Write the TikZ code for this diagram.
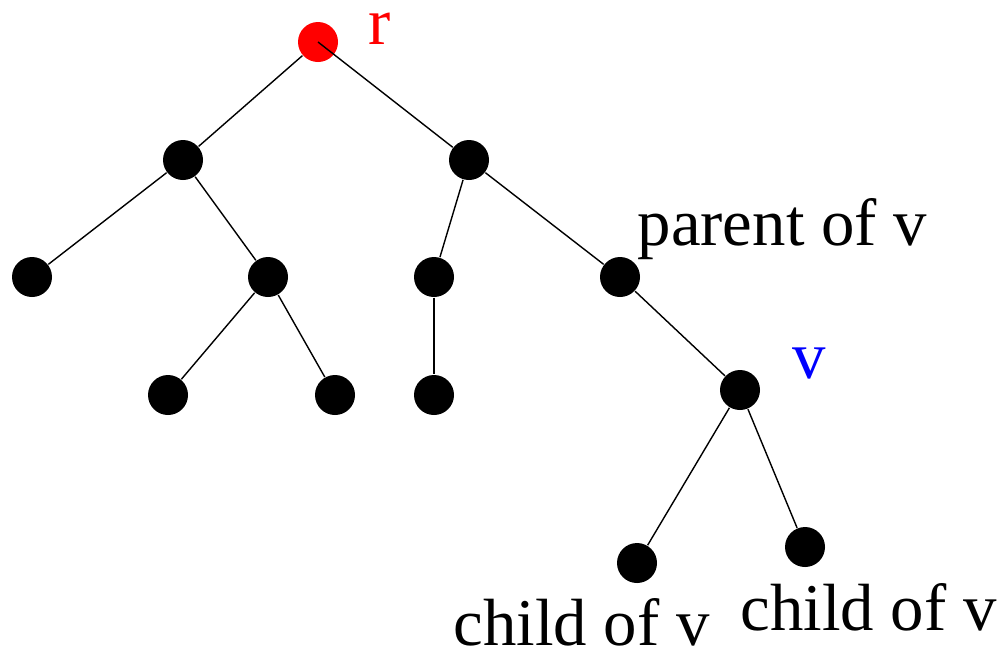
\documentclass[tikz,border=0pt]{standalone}
\usepackage{fontspec}
\setmainfont{Liberation Serif}
\usepackage{xcolor}

\begin{document}
\begin{tikzpicture}[
  vx/.style={circle,fill=black,inner sep=0pt,minimum size=0.4cm},
  root/.style={vx,fill=red},
  ed/.style={line width=0.4pt},
  lb/.style={anchor=base west,inner sep=0pt,font=\fontsize{19}{20}\selectfont}
]
\useasboundingbox (0,0) rectangle (10,6.51);

% vertices
\node[root] (r) at (3.18,6.09) {};
\node[vx] (a) at (1.83,4.91) {};
\node[vx] (b) at (4.69,4.91) {};
\node[vx] (c) at (0.32,3.74) {};
\node[vx] (d) at (2.68,3.74) {};
\node[vx] (e) at (4.34,3.74) {};
\node[vx] (f) at (6.20,3.74) {};
\node[vx] (g) at (1.68,2.56) {};
\node[vx] (h) at (3.35,2.56) {};
\node[vx] (i) at (4.34,2.56) {};
\node[vx] (v) at (7.40,2.61) {};
\node[vx] (j) at (6.37,0.88) {};
\node[vx] (k) at (8.05,1.04) {};

% edges
\draw[ed] (r) -- (a);
\draw[ed] (r.center) -- (b);
\draw[ed] (a) -- (c);
\draw[ed] (a) -- (d);
\draw[ed] (d) -- (g);
\draw[ed] (d) -- (h);
\draw[ed] (b) -- (e);
\draw[ed] (b) -- (f);
\draw[ed] (e) -- (i);
\draw[ed] (f) -- (v);
\draw[ed] (v) -- (j);
\draw[ed] (v) -- (k);

% labels
\node[lb,red]  (rl) at (3.68,6.07) {r};
\node[lb,blue] (vl) at (7.92,2.73) {v};
\node[lb] (pl)  at (6.37,4.06) {parent of v};
\node[lb] (cl1) at (4.53,0.06) {child of v};
\node[lb] (cl2) at (7.40,0.21) {child of v};
\end{tikzpicture}
\end{document}
